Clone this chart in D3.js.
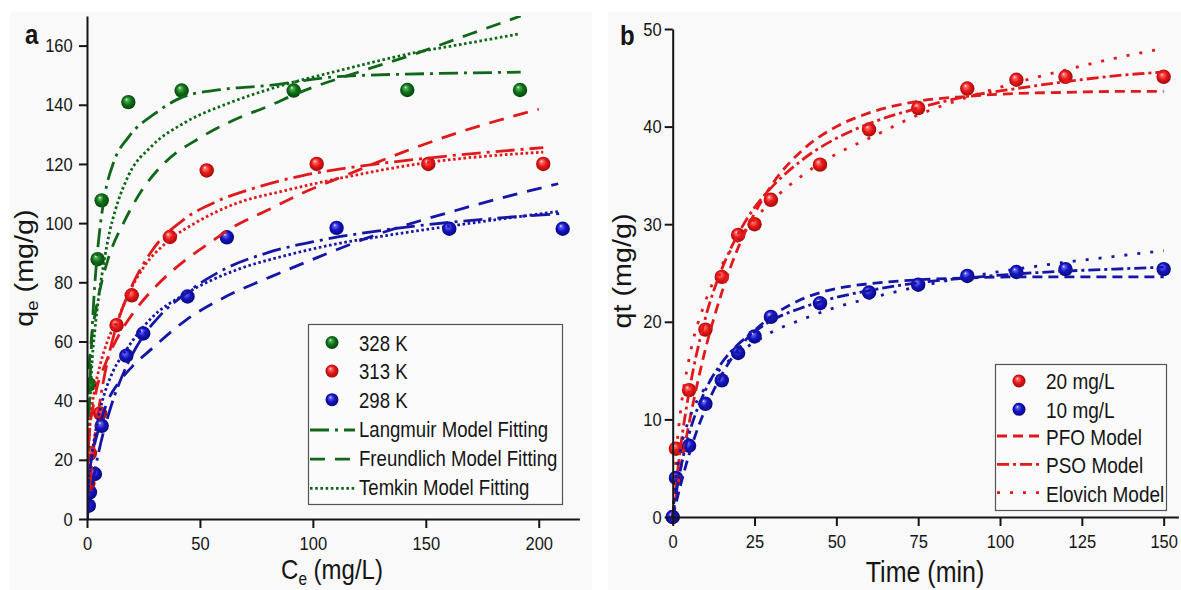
<!doctype html>
<html>
<head>
<meta charset="utf-8">
<style>
    body { margin: 0; background: #fff; }
    svg text { font-family: "Liberation Sans", Arial, sans-serif; fill: #151515; }
    .axis path, .axis line { stroke: #151515; stroke-width: 2; }
    .fit { fill: none; stroke-width: 2.8; }
</style>
</head>
<body>
<svg id="chart" width="1181" height="590"></svg>
<script src="https://cdnjs.cloudflare.com/ajax/libs/d3/7.8.5/d3.min.js"></script>
<script>
    // ---- panel a: isotherms, Ce (mg/L) vs qe (mg/g)
    var ceTicks = [0, 50, 100, 150, 200];
    var qeTicks = [0, 20, 40, 60, 80, 100, 120, 140, 160];

    var ce328 = [1.0, 4.7, 6.5, 18.3, 41.9, 91.5, 141.8, 191.7];
    var qe328 = [45.5, 87.8, 107.7, 140.9, 144.8, 144.8, 145.0, 145.0];
    var ce313 = [0.6, 1.3, 5.8, 13.1, 19.8, 36.7, 53.0, 101.7, 151.1, 202.0];
    var qe313 = [12.0, 22.2, 35.7, 65.5, 75.6, 95.3, 117.8, 120.0, 120.0, 120.0];
    var ce298 = [0.8, 1.3, 3.5, 6.5, 17.4, 24.9, 44.5, 61.9, 110.5, 160.4, 210.6];
    var qe298 = [4.5, 9.0, 15.2, 31.5, 55.2, 62.7, 75.2, 95.2, 98.4, 98.1, 98.1];

    // fitted curves, [Ce, qe]
    var lang328 = [[0,0],[0.3,14],[0.7,28],[1.2,42],[2,59],[3,74],[4.6,90],[6,100],[8,110],[12,121],[18.3,129],[30,137],[42,142.5],[58,145],[80,146.5],[111,149.5],[150,150.5],[192,151]];
    var freu328 = [[0,0],[0.01,19],[0.1,31],[0.5,44],[1,52],[2,61],[4,71],[6.5,80],[9.4,88],[16.8,101],[24.2,111],[34.5,120.5],[49.3,128.5],[64.1,134.5],[81.8,140],[93.6,144],[120,151],[144.5,157],[170,164],[192,170]];
    var temk328 = [[0.2,0],[0.5,18],[1,32],[2,50],[3.5,64],[5,74],[6.5,82],[8,89],[10,97],[12.4,104],[18.3,116],[28.6,126],[43.4,134],[62.6,140.5],[81.8,145.5],[114,152],[144.5,157.5],[170,161],[191.7,164]];
    var lang313 = [[0,0],[1,9],[2,17],[4,30.5],[6,41],[10,56.5],[14,67.5],[20,79],[28.6,90.5],[43.4,101.5],[58,107.5],[77,112.5],[95,116],[114,118.5],[151,122],[202,125.5]];
    var freu313 = [[0,0],[0.05,11],[0.3,19.5],[1,28],[3.5,41],[8.7,53.5],[14,62],[21.3,70.5],[31.6,79.5],[43.4,87.4],[53.7,93],[65.5,99],[80.3,104.5],[95,110],[114,116],[140,124],[162,130],[200,138.5]];
    var temk313 = [[0.15,0],[0.3,10],[0.6,22],[1.5,33],[3,42],[5.8,52],[9,60],[13.9,68],[18.3,76],[25,85],[36,94],[47.8,100],[65.5,106.5],[87.7,111],[114,115.5],[151,120.5],[202,124]];
    var lang298 = [[0,0],[2,10],[5,22],[10,36.5],[18,52.5],[24.2,61],[32,68.5],[43.4,76],[61,84.5],[80,90],[102,94],[130,97.5],[174,101.2],[209.4,103.2]];
    var freu298 = [[0,0],[0.3,9],[1,15],[3,24],[5,30],[8.7,39],[13.9,46],[20,51.5],[28.6,57.5],[43.4,67],[61.1,75],[81.8,82],[102.4,88.5],[122.3,94.5],[166.6,105],[208.6,113.3]];
    var temk298 = [[0.2,0],[0.6,10],[1.5,18],[3,26],[5.8,37],[8,43],[11.6,50],[16.8,56.5],[28.6,68],[43.4,76],[65.5,84],[87.7,89],[114,93.5],[130,95.5],[170,100],[209.4,104]];

    // ---- panel b: kinetics, time (min) vs qt (mg/g)
    var timeTicks = [0, 25, 50, 75, 100, 125, 150];
    var qtTicks = [0, 10, 20, 30, 40, 50];

    var time = [0, 1, 5, 10, 15, 20, 25, 30, 45, 60, 75, 90, 105, 120, 150];
    var qt20 = [0, 7.0, 13.0, 19.2, 24.6, 28.9, 30.0, 32.5, 36.1, 39.7, 41.9, 43.9, 44.8, 45.1, 45.1];
    var qt10 = [0, 4.0, 7.3, 11.6, 14.0, 16.8, 18.5, 20.5, 21.9, 23.0, 23.8, 24.7, 25.1, 25.4, 25.4];

    var tFit = [0, 1, 2.5, 5, 10, 15, 20, 25, 30, 40, 50, 60, 75, 90, 105, 120, 135, 150];
    var pfo20 = [0, 2.1, 5.1, 9.6, 17.2, 23.0, 27.6, 31.1, 33.9, 37.7, 40.0, 41.4, 42.6, 43.1, 43.4, 43.5, 43.6, 43.6];
    var pso20 = [0, 3.2, 7.4, 12.8, 20.4, 25.4, 29.0, 31.7, 33.7, 36.7, 38.8, 40.3, 41.9, 43.1, 43.9, 44.6, 45.2, 45.6];
    var elo20 = [0, 6.0, 11.1, 16.2, 22.1, 25.8, 28.4, 30.5, 32.3, 35.1, 37.2, 38.8, 41.2, 43.0, 44.5, 45.8, 47.0, 48.0];
    var pfo10 = [0, 1.4, 3.4, 6.4, 11.1, 14.6, 17.2, 19.1, 20.5, 22.4, 23.4, 23.9, 24.3, 24.5, 24.6, 24.6, 24.6, 24.6];
    var pso10 = [0, 2.3, 5.1, 8.5, 13.0, 15.8, 17.7, 19.0, 20.1, 21.5, 22.5, 23.2, 24.0, 24.5, 24.9, 25.2, 25.4, 25.6];
    var elo10 = [0, 4.0, 7.1, 10.0, 13.3, 15.3, 16.8, 17.9, 18.9, 20.3, 21.5, 22.4, 23.6, 24.6, 25.4, 26.1, 26.7, 27.3];

    var SY = 1.15; // text in the reference is drawn a little taller than wide
    var col = { g: '#106619', r: '#e0191c', b: '#1616a6' };
    var dash = { lang: '19,6,3,6', freu: '15,10', temk: '2.6,2.6', pfo: '10,6', pso: '12,4,3,4', elo: '3,10' };

    var svg = d3.select('#chart');
    var defs = svg.append('defs');

    [['g', '#58b05e', '#0d7318', '#043a08'],
     ['r', '#ff7070', '#e81818', '#960707'],
     ['b', '#6262f5', '#1414c2', '#060670']].forEach(function(c) {
        var gr = defs.append('radialGradient').attr('id', 'ball-' + c[0])
                .attr('cx', '50%').attr('cy', '50%').attr('r', '55%')
                .attr('fx', '36%').attr('fy', '30%');
        gr.append('stop').attr('offset', '0%').attr('stop-color', '#fff');
        gr.append('stop').attr('offset', '16%').attr('stop-color', c[1]);
        gr.append('stop').attr('offset', '52%').attr('stop-color', c[2]);
        gr.append('stop').attr('offset', '100%').attr('stop-color', c[3]);
    });

    svg.append('rect').attr('x', 10).attr('y', 12).attr('width', 582).attr('height', 578).attr('fill', '#f9f9f9');
    svg.append('rect').attr('x', 608).attr('y', 12).attr('width', 573).attr('height', 578).attr('fill', '#f9f9f9');

    // text helper: parts = [[string, isSub], ...]
    function txt(g, x, y, parts, size, opts) {
        opts = opts || {};
        var tr = 'translate(' + x + ',' + y + ') scale(1,' + SY + ')' + (opts.rot ? ' rotate(-90)' : '');
        var t = g.append('text').attr('transform', tr)
                .attr('font-size', size)
                .attr('text-anchor', opts.anchor || 'start')
                .attr('font-weight', opts.bold ? 'bold' : null);
        parts.forEach(function(p, i) {
            var sp = t.append('tspan').text(p[0]);
            if (p[1]) {
                sp.attr('font-size', size * 0.64).attr('dy', size * 0.2);
            } else if (i > 0 && parts[i - 1][1]) {
                sp.attr('dy', -size * 0.2);
            }
        });
        return t;
    }

    function axes(x, y, xt, yt, yPad) {
        var gx = svg.append('g').attr('class', 'axis')
                .attr('transform', 'translate(0,' + y.range()[0] + ')')
                .call(d3.axisBottom(x).tickValues(xt).tickSize(9).tickSizeOuter(0));
        gx.attr('font-size', 16.5).attr('font-family', null);
        gx.selectAll('text').attr('y', 18 / SY).attr('transform', 'scale(1,' + SY + ')');

        var gy = svg.append('g').attr('class', 'axis')
                .attr('transform', 'translate(' + x.range()[0] + ',0)')
                .call(d3.axisLeft(y).tickValues(yt).tickSize(8).tickSizeOuter(0).tickPadding(yPad));
        gy.attr('font-size', 16.5).attr('font-family', null);
        gy.selectAll('text').attr('transform', 'scale(1,' + SY + ')');
    }

    function dots(g, x, y, xs, ys, c) {
        g.selectAll(null).data(xs).enter().append('circle')
                .attr('cx', function(d) { return x(d); })
                .attr('cy', function(d, i) { return y(ys[i]); })
                .attr('r', 7.2)
                .attr('fill', 'url(#ball-' + c + ')');
    }

    function curve(g, x, y, pts, c, da) {
        var line = d3.line().curve(d3.curveMonotoneX)
                .x(function(d) { return x(d[0]); })
                .y(function(d) { return y(d[1]); });
        g.append('path').attr('class', 'fit').attr('d', line(pts))
                .attr('stroke', col[c]).attr('stroke-dasharray', da);
    }

    // ================= panel a
    var xa = d3.scaleLinear().domain([0, 218]).range([87, 579.4]);
    var ya = d3.scaleLinear().domain([0, 170]).range([519, 16]);

    defs.append('clipPath').attr('id', 'clip-a').append('rect')
            .attr('x', 87).attr('y', 16).attr('width', 493).attr('height', 503);
    var pa = svg.append('g').attr('clip-path', 'url(#clip-a)');

    dots(pa, xa, ya, ce298, qe298, 'b');
    dots(pa, xa, ya, ce313, qe313, 'r');
    dots(pa, xa, ya, ce328, qe328, 'g');

    curve(pa, xa, ya, lang328, 'g', dash.lang);
    curve(pa, xa, ya, freu328, 'g', dash.freu);
    curve(pa, xa, ya, temk328, 'g', dash.temk);
    curve(pa, xa, ya, lang313, 'r', dash.lang);
    curve(pa, xa, ya, freu313, 'r', dash.freu);
    curve(pa, xa, ya, temk313, 'r', dash.temk);
    curve(pa, xa, ya, lang298, 'b', dash.lang);
    curve(pa, xa, ya, freu298, 'b', dash.freu);
    curve(pa, xa, ya, temk298, 'b', dash.temk);

    axes(xa, ya, ceTicks, qeTicks, 6.3);

    txt(svg, 25, 44, [['a']], 24, { bold: true });
    txt(svg, 332, 579, [['C'], ['e', 1], [' (mg/L)']], 24, { anchor: 'middle' });
    txt(svg, 33, 268, [['q'], ['e', 1], [' (mg/g)']], 25, { anchor: 'middle', rot: true });

    // legend a
    var la = svg.append('g');
    la.append('rect').attr('x', 308.5).attr('y', 324.5).attr('width', 254).attr('height', 180)
            .attr('fill', '#fbfbfb').attr('stroke', '#555').attr('stroke-width', 1.2);
    var legA = [['328 K', 'g'], ['313 K', 'r'], ['298 K', 'b']];
    legA.forEach(function(d, i) {
        var cy = 342.5 + i * 28.6;
        la.append('circle').attr('cx', 332).attr('cy', cy).attr('r', 6.5).attr('fill', 'url(#ball-' + d[1] + ')');
        txt(la, 359, cy + 8.2, [[d[0]]], 18.6);
    });
    var legAl = [['Langmuir Model Fitting', dash.lang], ['Freundlich Model Fitting', dash.freu], ['Temkin Model Fitting', dash.temk]];
    legAl.forEach(function(d, i) {
        var ly = 430 + i * 29.2;
        la.append('line').attr('x1', 310).attr('x2', 355).attr('y1', ly).attr('y2', ly)
                .attr('stroke', col.g).attr('stroke-width', 2.8).attr('stroke-dasharray', d[1]);
        txt(la, 359, ly + 7, [[d[0]]], 18.6);
    });

    // ================= panel b
    var xb = d3.scaleLinear().domain([0, 154.5]).range([672.7, 1178.4]);
    var yb = d3.scaleLinear().domain([0, 50]).range([517, 29]);

    var pb = svg.append('g');
    dots(pb, xb, yb, time, qt20, 'r');
    dots(pb, xb, yb, time, qt10, 'b');

    function fitPts(vals) { return tFit.map(function(t, i) { return [t, vals[i]]; }); }
    curve(pb, xb, yb, fitPts(pfo20), 'r', dash.pfo);
    curve(pb, xb, yb, fitPts(pso20), 'r', dash.pso);
    curve(pb, xb, yb, fitPts(elo20), 'r', dash.elo);
    curve(pb, xb, yb, fitPts(pfo10), 'b', dash.pfo);
    curve(pb, xb, yb, fitPts(pso10), 'b', dash.pso);
    curve(pb, xb, yb, fitPts(elo10), 'b', dash.elo);

    axes(xb, yb, timeTicks, qtTicks, 3);

    txt(svg, 620, 45, [['b']], 24, { bold: true });
    txt(svg, 925, 582, [['Time (min)']], 25, { anchor: 'middle' });
    txt(svg, 631, 271, [['qt (mg/g)']], 25, { anchor: 'middle', rot: true });

    // legend b
    var lb = svg.append('g');
    lb.append('rect').attr('x', 995.5).attr('y', 364.5).attr('width', 171).attr('height', 146)
            .attr('fill', '#fbfbfb').attr('stroke', '#555').attr('stroke-width', 1.2);
    var legB = [['20 mg/L', 'r'], ['10 mg/L', 'b']];
    legB.forEach(function(d, i) {
        var cy = 381 + i * 28.3;
        lb.append('circle').attr('cx', 1019).attr('cy', cy).attr('r', 6.5).attr('fill', 'url(#ball-' + d[1] + ')');
        txt(lb, 1046, cy + 8.3, [[d[0]]], 19);
    });
    var legBl = [['PFO Model', dash.pfo], ['PSO Model', dash.pso], ['Elovich Model', dash.elo]];
    legBl.forEach(function(d, i) {
        var ly = 436 + i * 28.3;
        lb.append('line').attr('x1', 997).attr('x2', 1042).attr('y1', ly).attr('y2', ly)
                .attr('stroke', col.r).attr('stroke-width', 2.8).attr('stroke-dasharray', d[1]);
        txt(lb, 1046, ly + 9, [[d[0]]], 19);
    });
</script>
</body>
</html>
